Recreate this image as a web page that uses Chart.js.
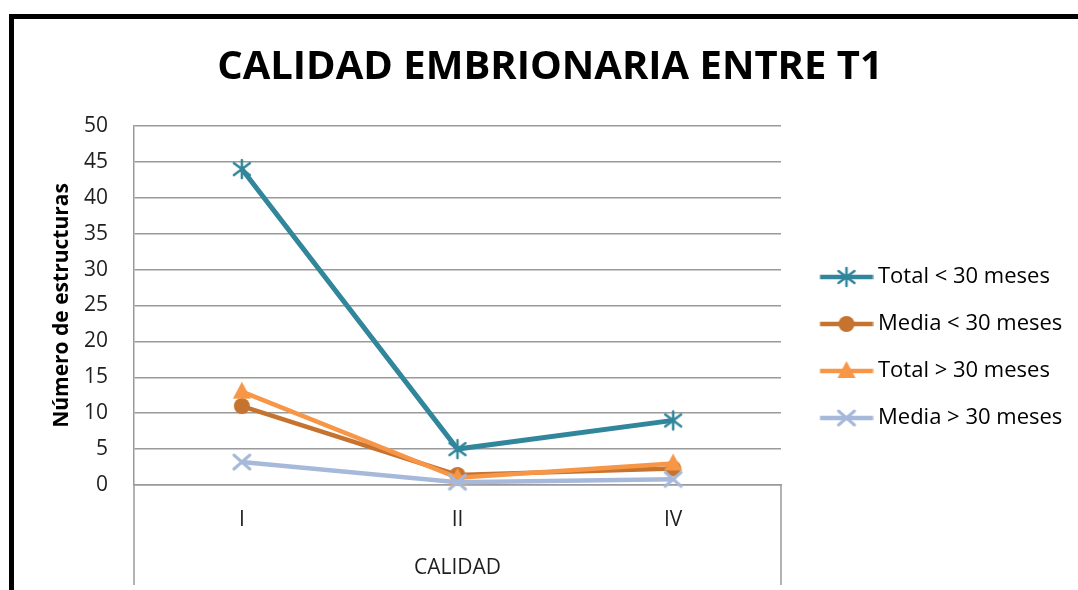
<!DOCTYPE html>
<html>
<head>
<meta charset="utf-8">
<script src="https://cdn.jsdelivr.net/npm/chart.js@4.4.0/dist/chart.umd.min.js"></script>
<style>
  html, body { margin: 0; padding: 0; background: #fff; }
  #wrap { position: relative; width: 1078px; height: 590px; overflow: hidden; }
  #frame { position: absolute; left: 9px; top: 14px; right: -10px; bottom: -10px;
           border-top: 5px solid #000; border-left: 5px solid #000; pointer-events: none; }
</style>
</head>
<body>
<div id="wrap">
  <canvas id="chart" width="1078" height="590"></canvas>
  <div id="frame"></div>
</div>
<script>
// Data
const categories = ['I', 'II', 'IV'];
const seriesNames = ['Total < 30 meses', 'Media < 30 meses', 'Total > 30 meses', 'Media > 30 meses'];
const totalMenos30 = [44, 5, 9];
const mediaMenos30 = [11, 1.4, 2.3];
const totalMas30 = [13, 1, 3];
const mediaMas30 = [3.2, 0.4, 0.8];
const yMin = 0;
const yMax = 50;
const yStep = 5;

const seriesColors = ['#31869b', '#c5732f', '#f79646', '#a6b9da'];
const seriesMarkers = ['star', 'circle', 'triangle', 'x'];

const FONT = "'Open Sans', sans-serif";
const GRID = '#9a9a9a';
const LEGEND_WIDTH = 297;
const LEGEND_TOP = 105;
const BOX_DEPTH = 100;

// --- markers ---

function drawMarker(ctx, kind, x, y, color) {
  ctx.save();
  ctx.strokeStyle = color;
  ctx.fillStyle = color;
  ctx.lineCap = 'round';
  if (kind === 'star') {
    ctx.lineWidth = 2.5;
    ctx.beginPath();
    ctx.moveTo(x, y - 9); ctx.lineTo(x, y + 9);
    ctx.moveTo(x - 8, y - 6); ctx.lineTo(x + 8, y + 6);
    ctx.moveTo(x - 8, y + 6); ctx.lineTo(x + 8, y - 6);
    ctx.stroke();
  } else if (kind === 'circle') {
    ctx.beginPath();
    ctx.arc(x, y, 8, 0, Math.PI * 2);
    ctx.fill();
  } else if (kind === 'triangle') {
    ctx.beginPath();
    ctx.moveTo(x, y - 10);
    ctx.lineTo(x + 9, y + 7);
    ctx.lineTo(x - 9, y + 7);
    ctx.closePath();
    ctx.fill();
  } else {
    ctx.lineWidth = 3;
    ctx.beginPath();
    ctx.moveTo(x - 8, y - 7); ctx.lineTo(x + 8, y + 7);
    ctx.moveTo(x - 8, y + 7); ctx.lineTo(x + 8, y - 7);
    ctx.stroke();
  }
  ctx.restore();
}

function makeMarker(kind, color) {
  const c = document.createElement('canvas');
  c.width = 24; c.height = 24;
  drawMarker(c.getContext('2d'), kind, 12, 12, color);
  return c;
}

function makeLegendIcon(kind, color) {
  const c = document.createElement('canvas');
  c.width = 74; c.height = 24;
  const ctx = c.getContext('2d');
  ctx.strokeStyle = color;
  ctx.lineWidth = 4.5;
  ctx.beginPath();
  ctx.moveTo(20.5, 12);
  ctx.lineTo(73.5, 12);
  ctx.stroke();
  drawMarker(ctx, kind, 47, 12, color);
  return c;
}

const seriesValues = [totalMenos30, mediaMenos30, totalMas30, mediaMas30];

const datasets = seriesNames.map((name, i) => ({
  label: name,
  data: seriesValues[i],
  borderColor: seriesColors[i],
  backgroundColor: seriesColors[i],
  borderWidth: i === 0 ? 5 : 4.5,
  pointStyle: makeMarker(seriesMarkers[i], seriesColors[i]),
  pointRadius: 9,
  tension: 0,
  clip: false,
  order: seriesNames.length - i // later series on top, like the original
}));

// box lines under the category axis + legend placement
const chartFrame = {
  id: 'chartFrame',
  afterInit(chart) {
    const legend = chart.legend;
    const fit = legend.fit;
    legend.fit = function () {
      fit.call(this);
      this.width = LEGEND_WIDTH;
    };
  },
  afterLayout(chart) {
    chart.legend.top = LEGEND_TOP;
  },
  afterDraw(chart) {
    const { ctx, chartArea } = chart;
    ctx.save();
    ctx.strokeStyle = GRID;
    ctx.lineWidth = 1.5;
    ctx.beginPath();
    ctx.moveTo(chartArea.left, chartArea.bottom);
    ctx.lineTo(chartArea.left, chartArea.bottom + BOX_DEPTH);
    ctx.moveTo(chartArea.right, chartArea.bottom);
    ctx.lineTo(chartArea.right, chartArea.bottom + BOX_DEPTH);
    ctx.stroke();
    ctx.restore();
  }
};

new Chart(document.getElementById('chart'), {
  type: 'line',
  data: { labels: categories, datasets: datasets },
  plugins: [chartFrame],
  options: {
    responsive: false,
    animation: false,
    devicePixelRatio: 1,
    layout: { padding: { left: 22, right: 0, top: 0, bottom: 0 } },
    plugins: {
      tooltip: { enabled: false },
      title: {
        display: true,
        text: 'CALIDAD EMBRIONARIA ENTRE T1',
        color: '#000',
        font: { family: FONT, size: 40, weight: 'bold', lineHeight: 1.2 },
        padding: { top: 44, bottom: 34 }
      },
      legend: {
        position: 'right',
        align: 'center',
        labels: {
          usePointStyle: true,
          pointStyleWidth: 61,
          padding: 25,
          color: '#1f1f1f',
          font: { family: FONT, size: 22 },
          generateLabels(chart) {
            return chart.data.datasets.map((ds, i) => ({
              text: ds.label,
              pointStyle: makeLegendIcon(seriesMarkers[i], seriesColors[i]),
              fillStyle: seriesColors[i],
              strokeStyle: seriesColors[i],
              lineWidth: 0,
              hidden: false,
              datasetIndex: i
            }));
          }
        }
      }
    },
    scales: {
      x: {
        offset: true,
        afterFit(scale) { scale.height = 105; },
        grid: { display: false, drawTicks: false },
        border: { display: true, color: GRID, width: 1.5 },
        ticks: { color: '#1f1f1f', padding: 22, font: { family: FONT, size: 21 } },
        title: {
          display: true,
          text: 'CALIDAD',
          color: '#1f1f1f',
          font: { family: FONT, size: 21, lineHeight: 1.2 },
          padding: { top: 0, bottom: 9.4 }
        }
      },
      y: {
        min: yMin,
        max: yMax,
        afterFit(scale) { scale.width = 112; },
        grid: { color: GRID, lineWidth: 1.5, drawTicks: false },
        border: { display: true, color: GRID, width: 1.5 },
        ticks: { stepSize: yStep, color: '#1f1f1f', padding: 26, font: { family: FONT, size: 21 } },
        title: {
          display: true,
          text: 'Número de estructuras',
          color: '#000',
          font: { family: FONT, size: 21, weight: 'bold', lineHeight: 1.2 },
          padding: { top: 27.4, bottom: 0 }
        }
      }
    }
  }
});
</script>
</body>
</html>
